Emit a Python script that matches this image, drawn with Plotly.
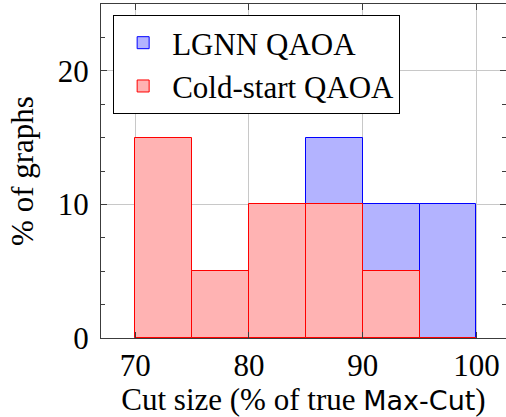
import plotly.graph_objects as go

bin_starts = [70, 75, 80, 85, 90, 95]
bin_width = 5
lgnn_pct = [0, 0, 0, 15, 10, 10]
cold_pct = [15, 5, 10, 10, 5, 0]
y_ticks = [0, 10, 20]
x_ticks = [70, 80, 90, 100]

SERIF = "Liberation Serif"
FS = 31

fig = go.Figure()
fig.add_trace(go.Bar(
    x=bin_starts, y=lgnn_pct, width=bin_width, offset=0,
    name="LGNN QAOA",
    marker=dict(color="rgb(179,179,255)", line=dict(color="rgb(0,0,255)", width=1)),
))
fig.add_trace(go.Bar(
    x=bin_starts, y=cold_pct, width=bin_width, offset=0,
    name="Cold-start QAOA",
    marker=dict(color="rgb(255,179,179)", line=dict(color="rgb(255,0,0)", width=1)),
))

axis_common = dict(
    showgrid=True, gridcolor="rgb(200,200,200)", gridwidth=1,
    showline=True, linecolor="rgb(60,60,60)", linewidth=1, mirror="allticks",
    ticks="inside", ticklen=6, tickcolor="rgb(60,60,60)",
    zeroline=False, layer="above traces",
    tickfont=dict(family=SERIF, size=FS, color="black"),
)

fig.update_layout(
    template="none",
    width=506, height=417,
    margin=dict(l=101, r=0, t=4, b=79),
    paper_bgcolor="white", plot_bgcolor="white",
    barmode="overlay", bargap=0,
    font=dict(family=SERIF, size=FS, color="black"),
    xaxis=dict(
        range=[67, 102.6], tickvals=x_ticks,
        title=dict(text='Cut size (% of true <span style="font-family:DejaVu Sans;font-size:27px">Max-Cut</span>)',
                   font=dict(family=SERIF, size=FS), standoff=6),
        **axis_common,
    ),
    yaxis=dict(
        range=[0, 25], tickvals=y_ticks, ticklabelstandoff=5,
        minor=dict(dtick=2.5, ticks="inside", ticklen=4, tickcolor="rgb(60,60,60)", showgrid=False),
        title=dict(text="% of graphs", font=dict(family=SERIF, size=FS), standoff=14),
        **axis_common,
    ),
    legend=dict(
        x=0.03, y=0.967, xanchor="left", yanchor="top",
        bordercolor="black", borderwidth=1, bgcolor="white",
        font=dict(family=SERIF, size=FS), tracegroupgap=0, itemwidth=48,
    ),
)

fig.write_html("out.html", config={"displayModeBar": False},
               post_script="document.body.style.margin='0';document.body.style.overflow='hidden';")
